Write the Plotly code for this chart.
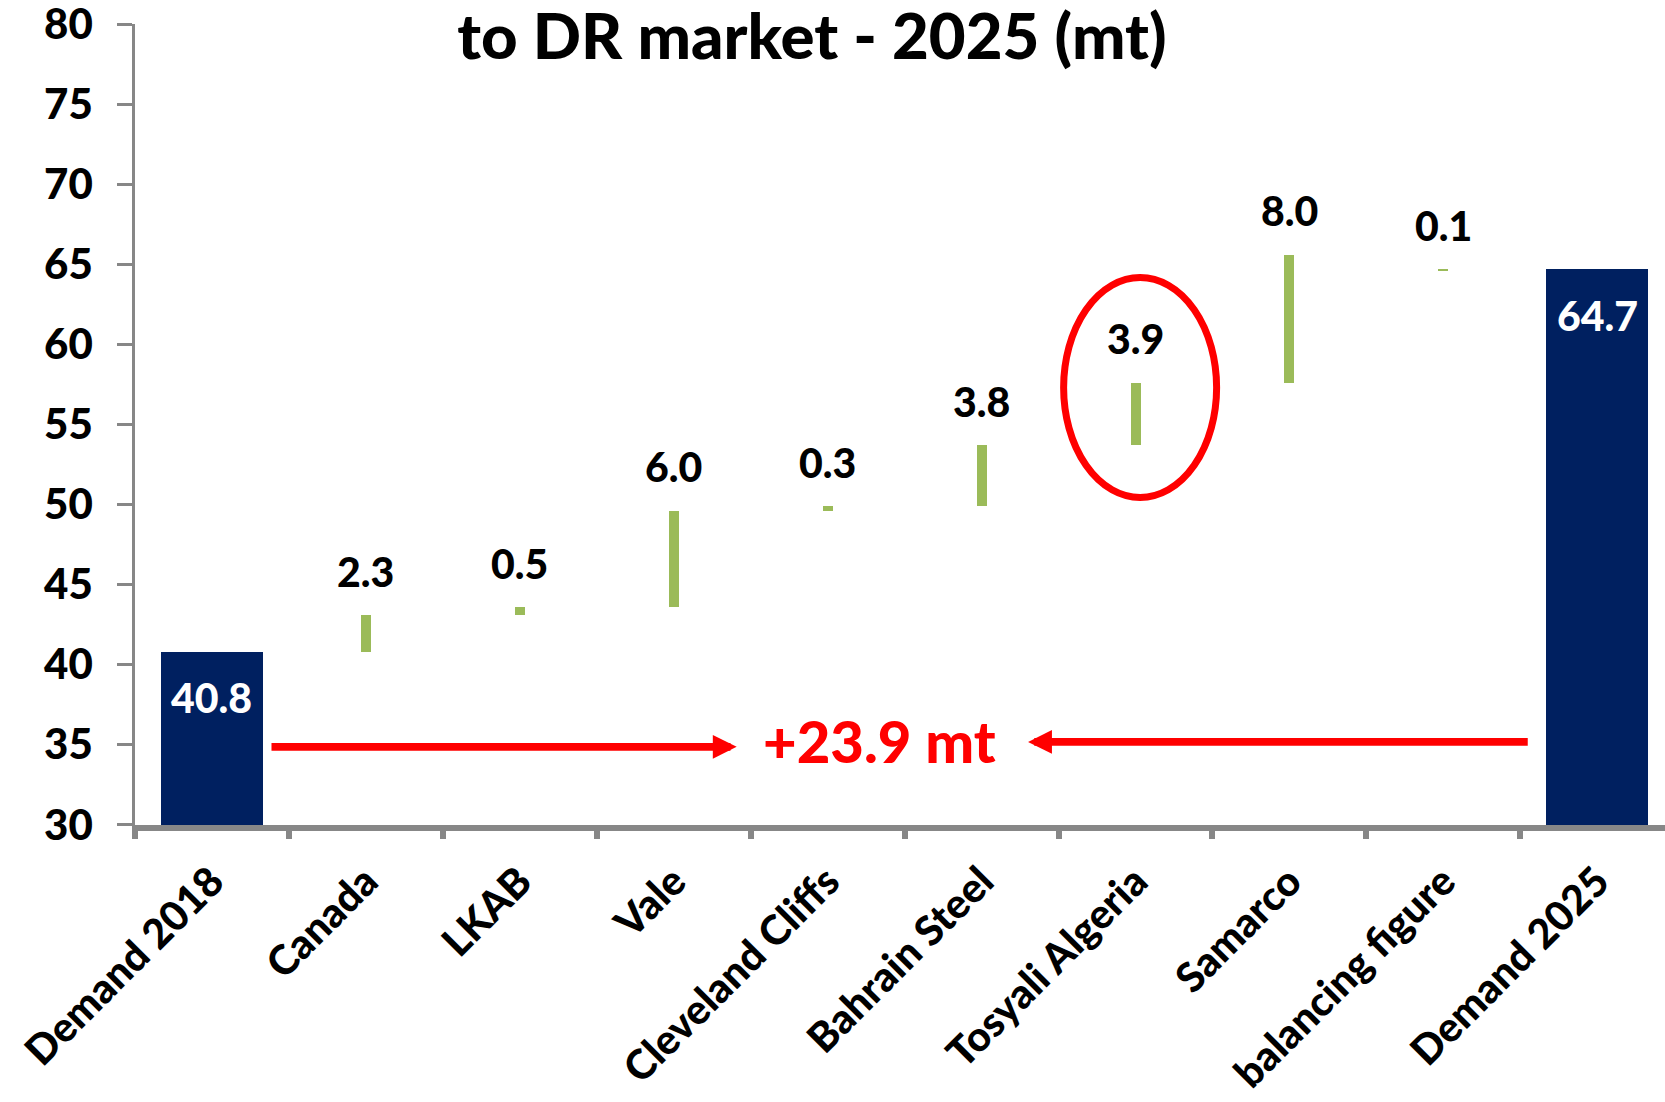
import plotly.graph_objects as go

categories = ["Demand 2018", "Canada", "LKAB", "Vale", "Cleveland Cliffs",
              "Bahrain Steel", "Tosyali Algeria", "Samarco", "balancing figure", "Demand 2025"]
values = [40.8, 2.3, 0.5, 6.0, 0.3, 3.8, 3.9, 8.0, 0.1, 64.7]
bases = [0, 40.8, 43.1, 43.6, 49.6, 49.9, 53.7, 57.6, 64.6, 0]
is_total = [True, False, False, False, False, False, False, False, False, True]
y_ticks = [30, 35, 40, 45, 50, 55, 60, 65, 70, 75, 80]
title_text = "to DR market - 2025 (mt)"
unit = "mt"

NAVY = "#002060"
GREEN = "#9BBB59"
RED = "#FF0000"
GRAY = "#878787"
FONT = "Lato"
W = 900

colors = [NAVY if t else GREEN for t in is_total]
widths = [0.665 if t else 0.065 for t in is_total]

fig = go.Figure()
fig.add_trace(go.Bar(
    x=categories, y=values, base=bases,
    marker=dict(color=colors, line=dict(width=0)),
    width=widths, hoverinfo="skip", showlegend=False,
))

annotations = []
for c, v, b, t in zip(categories, values, bases, is_total):
    if t:
        annotations.append(dict(x=c, y=v, xref="x", yref="y", text=f"{v:.1f}",
                                showarrow=False, yanchor="middle", yshift=-46,
                                font=dict(family=FONT, size=41, color="white", weight=W)))
    else:
        annotations.append(dict(x=c, y=b + v, xref="x", yref="y", text=f"{v:.1f}",
                                showarrow=False, yanchor="middle", yshift=44,
                                font=dict(family=FONT, size=41, color="black", weight=W)))

growth = values[-1] - values[0]
annotations.append(dict(x=4.34, y=35.24, xref="x", yref="y",
                        text=f"+{growth:.1f} {unit}", showarrow=False,
                        font=dict(family=FONT, size=58, color=RED, weight=W)))
# arrows
annotations.append(dict(x=3.409, y=34.87, ax=0.377, ay=34.87, xref="x", yref="y",
                        axref="x", ayref="y", text="", showarrow=True, arrowhead=2,
                        arrowsize=0.62, arrowwidth=7.7, arrowcolor=RED, standoff=0))
annotations.append(dict(x=5.302, y=35.18, ax=8.558, ay=35.18, xref="x", yref="y",
                        axref="x", ayref="y", text="", showarrow=True, arrowhead=2,
                        arrowsize=0.62, arrowwidth=7.7, arrowcolor=RED, standoff=0))

fig.add_shape(type="circle", xref="x", yref="y", x0=5.533, x1=6.527, y0=50.44, y1=64.18,
              line=dict(color=RED, width=7))

fig.update_layout(
    width=1665, height=1102,
    margin=dict(l=135, r=0, t=24, b=277, autoexpand=False),
    paper_bgcolor="white", plot_bgcolor="white",
    annotations=annotations,
    title=dict(text=title_text, x=812 / 1665, xanchor="center",
               y=1 - 37 / 1102, yanchor="middle", yref="container", automargin=False,
               font=dict(family=FONT, size=63.5, color="black", weight=W)),
    bargap=0,
)
fig.update_yaxes(range=[29.99, 80.01], tickvals=y_ticks, showgrid=False, zeroline=False,
                 automargin=False, ticklabeloverflow="allow",
                 showline=True, linecolor=GRAY, linewidth=2.5,
                 ticks="outside", ticklen=15, tickwidth=2.5, tickcolor=GRAY,
                 ticklabelstandoff=16,
                 tickfont=dict(family=FONT, size=42, color="black", weight=W))
fig.update_xaxes(range=[-0.5, 9.44], showgrid=False, zeroline=False,
                 automargin=False, ticklabeloverflow="allow",
                 showline=True, linecolor=GRAY, linewidth=6,
                 ticks="outside", ticklen=8, tickwidth=6, tickcolor=GRAY,
                 tickson="boundaries", tickangle=-45, ticklabelstandoff=10,
                 tickfont=dict(family=FONT, size=41, color="black", weight=W))

fig.write_html("out.html")
